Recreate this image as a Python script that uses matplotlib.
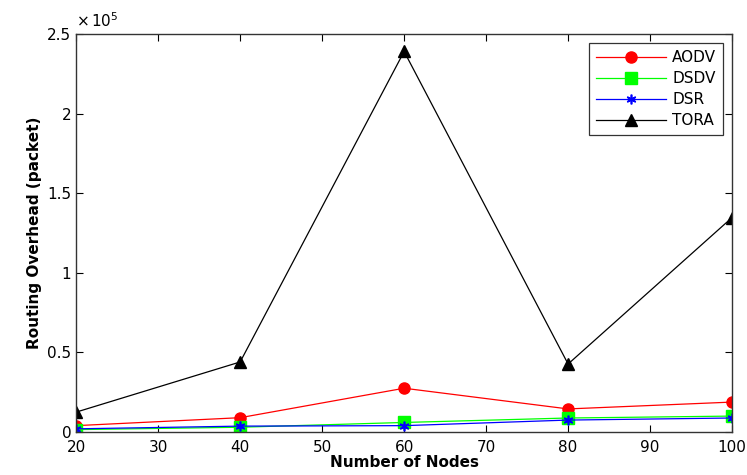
import matplotlib.pyplot as plt
from matplotlib.ticker import FuncFormatter

nodes = [20, 40, 60, 80, 100]
aodv = [4000, 9000, 27500, 14500, 18800]
dsdv = [1500, 3000, 6000, 8800, 10000]
dsr = [2000, 3700, 4000, 7500, 8800]
tora = [12500, 44000, 239000, 42700, 134700]

fig = plt.figure(figsize=(7.47, 4.75), dpi=100)
ax = fig.add_axes([0.102, 0.0905, 0.878, 0.838])

ax.plot(nodes, aodv, '-o', color='red', lw=0.9, ms=8, label='AODV')
ax.plot(nodes, dsdv, '-s', color='#00ff00', lw=0.9, ms=8, label='DSDV')
# MATLAB-style asterisk marker
ax.plot(nodes, dsr, '-', marker=(6, 2, 0), color='blue', lw=0.9, ms=7, mew=1.2, label='DSR')
ax.plot(nodes, tora, '-^', color='black', lw=0.9, ms=8, label='TORA')

ax.set_xlim(20, 100)
ax.set_ylim(0, 2.5e5)
ax.set_xticks(range(20, 101, 10))
ax.set_yticks([0, 0.5e5, 1e5, 1.5e5, 2e5, 2.5e5])
ax.yaxis.set_major_formatter(FuncFormatter(lambda v, p: '%g' % (v / 1e5)))
ax.tick_params(direction='in', top=True, right=True, labelsize=11, length=5)
ax.tick_params(axis='x', pad=6)
for s in ax.spines.values():
    s.set_linewidth(1.0)
    s.set_color('#333333')

ax.text(0.0, 1.01, r'$\times\,10^5$', transform=ax.transAxes, fontsize=11,
        ha='left', va='bottom')

ax.set_xlabel('Number of Nodes', fontsize=11, fontweight='bold', labelpad=0)
ax.set_ylabel('Routing Overhead (packet)', fontsize=11, fontweight='bold', labelpad=4)

leg = ax.legend(loc='upper right', fontsize=11, fancybox=False, edgecolor='black',
                borderaxespad=0.6, handlelength=4.6, labelspacing=0.4,
                borderpad=0.45, handletextpad=0.4)
leg.get_frame().set_linewidth(0.9)

fig.savefig('out.png', dpi=100)
